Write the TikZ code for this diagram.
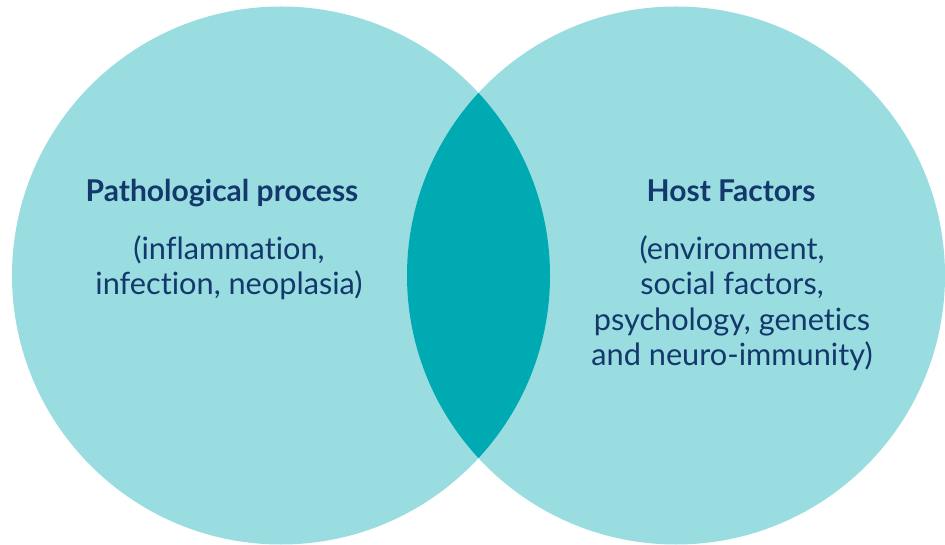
\documentclass[tikz,border=0pt]{standalone}
\usepackage{fontspec}
\setmainfont{Lato}[Ligatures={NoCommon,NoDiscretionary,NoContextual}]
\usetikzlibrary{positioning}
\definecolor{setfill}{HTML}{9ADDE1}
\definecolor{lensfill}{HTML}{00AAB3}
\definecolor{labeltext}{HTML}{13386B}
\tikzset{
  setcircle/.style={circle, fill=setfill, inner sep=0pt, minimum size=538pt},
  settitle/.style={text=labeltext, font=\fontsize{30}{36}\selectfont\bfseries, inner sep=0pt, anchor=base},
  setbody/.style={text=labeltext, font=\fontsize{30.7}{35.5}\selectfont, inner sep=0pt, align=center}
}
\begin{document}
\begin{tikzpicture}[x=1pt,y=-1pt]
\useasboundingbox (0,0) rectangle (945,545);
%draw circles
\node[setcircle] (pathset) at (281,275.5) {};
\node[setcircle] (hostset) at (676,275.5) {};
%draw overlap
\begin{scope}
\clip (pathset.center) circle (269pt);
\fill[lensfill] (hostset.center) circle (269pt);
\end{scope}
%draw labels
\node[settitle] (pathtitle) at (222,202) {Pathological process};
\node[setbody, below=33pt of pathtitle.base, xshift=7pt] (pathbody) {(inflammation,\\infection, neoplasia)};
\node[settitle] (hosttitle) at (731,202) {Host Factors};
\node[setbody, below=33pt of hosttitle.base, xshift=1pt] (hostbody) {(environment,\\social factors,\\psychology, genetics\\and neuro-immunity)};
\end{tikzpicture}
\end{document}
